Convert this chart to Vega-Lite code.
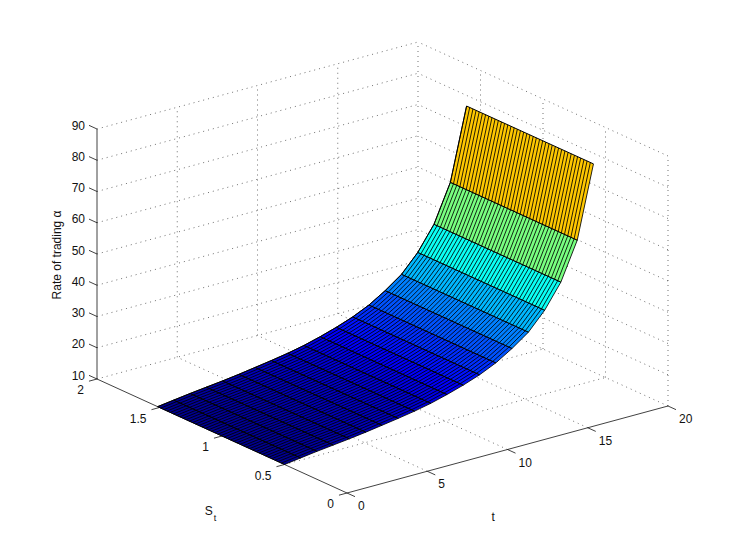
{"$schema":"https://vega.github.io/schema/vega-lite/v6.json","width":740,"height":556,"padding":0,"autosize":{"type":"none"},"background":"white","config":{"view":{"stroke":null}},
"datasets":{
"grid":[{"t":5,"S":0,"z":10,"t2":5,"S2":2,"z2":10},{"t":10,"S":0,"z":10,"t2":10,"S2":2,"z2":10},{"t":15,"S":0,"z":10,"t2":15,"S2":2,"z2":10},{"t":20,"S":0,"z":10,"t2":20,"S2":2,"z2":10},{"t":0,"S":0.5,"z":10,"t2":20,"S2":0.5,"z2":10},{"t":0,"S":1,"z":10,"t2":20,"S2":1,"z2":10},{"t":0,"S":1.5,"z":10,"t2":20,"S2":1.5,"z2":10},{"t":0,"S":2,"z":10,"t2":20,"S2":2,"z2":10},
{"t":0,"S":2,"z":20,"t2":20,"S2":2,"z2":20},{"t":0,"S":2,"z":30,"t2":20,"S2":2,"z2":30},{"t":0,"S":2,"z":40,"t2":20,"S2":2,"z2":40},{"t":0,"S":2,"z":50,"t2":20,"S2":2,"z2":50},{"t":0,"S":2,"z":60,"t2":20,"S2":2,"z2":60},{"t":0,"S":2,"z":70,"t2":20,"S2":2,"z2":70},{"t":0,"S":2,"z":80,"t2":20,"S2":2,"z2":80},{"t":0,"S":2,"z":90,"t2":20,"S2":2,"z2":90},
{"t":5,"S":2,"z":10,"t2":5,"S2":2,"z2":90},{"t":10,"S":2,"z":10,"t2":10,"S2":2,"z2":90},{"t":15,"S":2,"z":10,"t2":15,"S2":2,"z2":90},{"t":20,"S":2,"z":10,"t2":20,"S2":2,"z2":90},
{"t":20,"S":0,"z":20,"t2":20,"S2":2,"z2":20},{"t":20,"S":0,"z":30,"t2":20,"S2":2,"z2":30},{"t":20,"S":0,"z":40,"t2":20,"S2":2,"z2":40},{"t":20,"S":0,"z":50,"t2":20,"S2":2,"z2":50},{"t":20,"S":0,"z":60,"t2":20,"S2":2,"z2":60},{"t":20,"S":0,"z":70,"t2":20,"S2":2,"z2":70},{"t":20,"S":0,"z":80,"t2":20,"S2":2,"z2":80},{"t":20,"S":0,"z":90,"t2":20,"S2":2,"z2":90},
{"t":20,"S":0,"z":10,"t2":20,"S2":0,"z2":90},{"t":20,"S":0.5,"z":10,"t2":20,"S2":0.5,"z2":90},{"t":20,"S":1,"z":10,"t2":20,"S2":1,"z2":90},{"t":20,"S":1.5,"z":10,"t2":20,"S2":1.5,"z2":90}],
"solid":[{"t":0,"S":2,"z":10,"t2":0,"S2":2,"z2":90},{"t":0,"S":0,"z":10,"t2":0,"S2":2,"z2":10},{"t":0,"S":0,"z":10,"t2":20,"S2":0,"z2":10},
{"t":0,"S":2,"z":10,"t2":0,"S2":2.064,"z2":10},{"t":0,"S":2,"z":20,"t2":0,"S2":2.064,"z2":20},{"t":0,"S":2,"z":30,"t2":0,"S2":2.064,"z2":30},{"t":0,"S":2,"z":40,"t2":0,"S2":2.064,"z2":40},{"t":0,"S":2,"z":50,"t2":0,"S2":2.064,"z2":50},{"t":0,"S":2,"z":60,"t2":0,"S2":2.064,"z2":60},{"t":0,"S":2,"z":70,"t2":0,"S2":2.064,"z2":70},{"t":0,"S":2,"z":80,"t2":0,"S2":2.064,"z2":80},{"t":0,"S":2,"z":90,"t2":0,"S2":2.064,"z2":90},
{"t":0,"S":0,"z":10,"t2":-0.5,"S2":0,"z2":10},{"t":0,"S":0.5,"z":10,"t2":-0.5,"S2":0.5,"z2":10},{"t":0,"S":1,"z":10,"t2":-0.5,"S2":1,"z2":10},{"t":0,"S":1.5,"z":10,"t2":-0.5,"S2":1.5,"z2":10},{"t":0,"S":2,"z":10,"t2":-0.5,"S2":2,"z2":10},
{"t":0,"S":0,"z":10,"t2":0,"S2":-0.064,"z2":10},{"t":5,"S":0,"z":10,"t2":5,"S2":-0.064,"z2":10},{"t":10,"S":0,"z":10,"t2":10,"S2":-0.064,"z2":10},{"t":15,"S":0,"z":10,"t2":15,"S2":-0.064,"z2":10},{"t":20,"S":0,"z":10,"t2":20,"S2":-0.064,"z2":10}],
"cells":[
{"c":"c00","o":0,"t":0,"S":0.5,"z":10},{"c":"c00","o":1,"t":0,"S":1.515,"z":10},{"c":"c00","o":2,"t":1.01,"S":1.515,"z":10.7},{"c":"c00","o":3,"t":1.01,"S":0.5,"z":10.7},
{"c":"c01","o":0,"t":1.01,"S":0.5,"z":10.7},{"c":"c01","o":1,"t":1.01,"S":1.515,"z":10.7},{"c":"c01","o":2,"t":2.03,"S":1.515,"z":11.4},{"c":"c01","o":3,"t":2.03,"S":0.5,"z":11.4},
{"c":"c02","o":0,"t":2.03,"S":0.5,"z":11.4},{"c":"c02","o":1,"t":2.03,"S":1.515,"z":11.4},{"c":"c02","o":2,"t":3.04,"S":1.515,"z":12},{"c":"c02","o":3,"t":3.04,"S":0.5,"z":12},
{"c":"c03","o":0,"t":3.04,"S":0.5,"z":12},{"c":"c03","o":1,"t":3.04,"S":1.515,"z":12},{"c":"c03","o":2,"t":4.05,"S":1.515,"z":12.6},{"c":"c03","o":3,"t":4.05,"S":0.5,"z":12.6},
{"c":"c04","o":0,"t":4.05,"S":0.5,"z":12.6},{"c":"c04","o":1,"t":4.05,"S":1.515,"z":12.6},{"c":"c04","o":2,"t":5.07,"S":1.515,"z":13.3},{"c":"c04","o":3,"t":5.07,"S":0.5,"z":13.3},
{"c":"c05","o":0,"t":5.07,"S":0.5,"z":13.3},{"c":"c05","o":1,"t":5.07,"S":1.515,"z":13.3},{"c":"c05","o":2,"t":6.08,"S":1.515,"z":14.1},{"c":"c05","o":3,"t":6.08,"S":0.5,"z":14.1},
{"c":"c06","o":0,"t":6.08,"S":0.5,"z":14.1},{"c":"c06","o":1,"t":6.08,"S":1.515,"z":14.1},{"c":"c06","o":2,"t":7.09,"S":1.515,"z":14.9},{"c":"c06","o":3,"t":7.09,"S":0.5,"z":14.9},
{"c":"c07","o":0,"t":7.09,"S":0.5,"z":14.9},{"c":"c07","o":1,"t":7.09,"S":1.515,"z":14.9},{"c":"c07","o":2,"t":8.11,"S":1.515,"z":15.8},{"c":"c07","o":3,"t":8.11,"S":0.5,"z":15.8},
{"c":"c08","o":0,"t":8.11,"S":0.5,"z":15.8},{"c":"c08","o":1,"t":8.11,"S":1.515,"z":15.8},{"c":"c08","o":2,"t":9.12,"S":1.515,"z":16.9},{"c":"c08","o":3,"t":9.12,"S":0.5,"z":16.9},
{"c":"c09","o":0,"t":9.12,"S":0.5,"z":16.9},{"c":"c09","o":1,"t":9.12,"S":1.515,"z":16.9},{"c":"c09","o":2,"t":10.13,"S":1.515,"z":18.3},{"c":"c09","o":3,"t":10.13,"S":0.5,"z":18.3},
{"c":"c10","o":0,"t":10.13,"S":0.5,"z":18.3},{"c":"c10","o":1,"t":10.13,"S":1.515,"z":18.3},{"c":"c10","o":2,"t":11.14,"S":1.515,"z":19.9},{"c":"c10","o":3,"t":11.14,"S":0.5,"z":19.9},
{"c":"c11","o":0,"t":11.14,"S":0.5,"z":19.9},{"c":"c11","o":1,"t":11.14,"S":1.515,"z":19.9},{"c":"c11","o":2,"t":12.16,"S":1.515,"z":21.8},{"c":"c11","o":3,"t":12.16,"S":0.5,"z":21.8},
{"c":"c12","o":0,"t":12.16,"S":0.5,"z":21.8},{"c":"c12","o":1,"t":12.16,"S":1.515,"z":21.8},{"c":"c12","o":2,"t":13.17,"S":1.515,"z":24.2},{"c":"c12","o":3,"t":13.17,"S":0.5,"z":24.2},
{"c":"c13","o":0,"t":13.17,"S":0.5,"z":24.2},{"c":"c13","o":1,"t":13.17,"S":1.515,"z":24.2},{"c":"c13","o":2,"t":14.18,"S":1.515,"z":27.4},{"c":"c13","o":3,"t":14.18,"S":0.5,"z":27.4},
{"c":"c14","o":0,"t":14.18,"S":0.5,"z":27.4},{"c":"c14","o":1,"t":14.18,"S":1.515,"z":27.4},{"c":"c14","o":2,"t":15.2,"S":1.515,"z":31.2},{"c":"c14","o":3,"t":15.2,"S":0.5,"z":31.2},
{"c":"c15","o":0,"t":15.2,"S":0.5,"z":31.2},{"c":"c15","o":1,"t":15.2,"S":1.515,"z":31.2},{"c":"c15","o":2,"t":16.21,"S":1.515,"z":36.8},{"c":"c15","o":3,"t":16.21,"S":0.5,"z":36.8},
{"c":"c16","o":0,"t":16.21,"S":0.5,"z":36.8},{"c":"c16","o":1,"t":16.21,"S":1.515,"z":36.8},{"c":"c16","o":2,"t":17.22,"S":1.515,"z":44.4},{"c":"c16","o":3,"t":17.22,"S":0.5,"z":44.4},
{"c":"c17","o":0,"t":17.22,"S":0.5,"z":44.4},{"c":"c17","o":1,"t":17.22,"S":1.515,"z":44.4},{"c":"c17","o":2,"t":18.24,"S":1.515,"z":56.4},{"c":"c17","o":3,"t":18.24,"S":0.5,"z":56.4},
{"c":"c18","o":0,"t":18.24,"S":0.5,"z":56.4},{"c":"c18","o":1,"t":18.24,"S":1.515,"z":56.4},{"c":"c18","o":2,"t":19.25,"S":1.515,"z":79.4},{"c":"c18","o":3,"t":19.25,"S":0.5,"z":79.4}],
"profile":[{"t":0,"z":10},{"t":1.01,"z":10.7},{"t":2.03,"z":11.4},{"t":3.04,"z":12},{"t":4.05,"z":12.6},{"t":5.07,"z":13.3},{"t":6.08,"z":14.1},{"t":7.09,"z":14.9},{"t":8.11,"z":15.8},{"t":9.12,"z":16.9},{"t":10.13,"z":18.3},{"t":11.14,"z":19.9},{"t":12.16,"z":21.8},{"t":13.17,"z":24.2},{"t":14.18,"z":27.4},{"t":15.2,"z":31.2},{"t":16.21,"z":36.8},{"t":17.22,"z":44.4},{"t":18.24,"z":56.4},{"t":19.25,"z":79.4}]
},
"encoding":{"x":{"field":"u","type":"quantitative","scale":{"domain":[0,740],"range":[0,740],"nice":false,"zero":false},"axis":null},"y":{"field":"v","type":"quantitative","scale":{"domain":[0,556],"range":[0,556],"nice":false,"zero":false},"axis":null}},
"layer":[
{"data":{"name":"grid"},"transform":[{"calculate":"347+16.05*datum.t-125*datum.S","as":"u"},{"calculate":"493-4.35*datum.t-57*datum.S-3.125*(datum.z-10)","as":"v"},{"calculate":"347+16.05*datum.t2-125*datum.S2","as":"u2"},{"calculate":"493-4.35*datum.t2-57*datum.S2-3.125*(datum.z2-10)","as":"v2"}],"mark":{"type":"rule","stroke":"#333333","strokeWidth":0.7,"strokeDash":[1,4]},"encoding":{"x2":{"field":"u2"},"y2":{"field":"v2"}}},
{"data":{"name":"solid"},"transform":[{"calculate":"347+16.05*datum.t-125*datum.S","as":"u"},{"calculate":"493-4.35*datum.t-57*datum.S-3.125*(datum.z-10)","as":"v"},{"calculate":"347+16.05*datum.t2-125*datum.S2","as":"u2"},{"calculate":"493-4.35*datum.t2-57*datum.S2-3.125*(datum.z2-10)","as":"v2"}],"mark":{"type":"rule","stroke":"#111111","strokeWidth":0.8},"encoding":{"x2":{"field":"u2"},"y2":{"field":"v2"}}},
{"data":{"name":"cells"},"transform":[{"calculate":"347+16.05*datum.t-125*datum.S","as":"u"},{"calculate":"493-4.35*datum.t-57*datum.S-3.125*(datum.z-10)","as":"v"}],"mark":{"type":"line","filled":true,"stroke":"#000000","strokeWidth":1},"encoding":{"fill":{"field":"c","type":"nominal","legend":null,"scale":{"domain":["c00","c01","c02","c03","c04","c05","c06","c07","c08","c09","c10","c11","c12","c13","c14","c15","c16","c17","c18"],"range":["#000090","#000098","#0000a0","#0000a8","#0000b0","#0000b8","#0000c2","#0000cc","#0000d8","#0000e6","#0000fa","#0012ff","#002eff","#0052ff","#0080ff","#00b8ff","#0bfff4","#78ff80","#ffc800"]}},"order":{"field":"o","type":"quantitative"}}},
{"data":{"name":"profile"},"transform":[{"calculate":"[0.5,0.525,0.551,0.576,0.602,0.627,0.652,0.678,0.703,0.728,0.754,0.779,0.805,0.83,0.855,0.881,0.906,0.931,0.957,0.982,1.008,1.033,1.058,1.084,1.109,1.134,1.16,1.185,1.211,1.236,1.261,1.287,1.312,1.337,1.363,1.388,1.414,1.439,1.464,1.49,1.515]","as":"S"},{"flatten":["S"]},{"calculate":"347+16.05*datum.t-125*datum.S","as":"u"},{"calculate":"493-4.35*datum.t-57*datum.S-3.125*(datum.z-10)","as":"v"}],"mark":{"type":"line","stroke":"#000000","strokeWidth":0.85},"encoding":{"detail":{"field":"S","type":"quantitative"},"order":{"field":"t","type":"quantitative"}}},
{"data":{"values":[{"txt":"10","t":0,"S":2,"z":10},{"txt":"20","t":0,"S":2,"z":20},{"txt":"30","t":0,"S":2,"z":30},{"txt":"40","t":0,"S":2,"z":40},{"txt":"50","t":0,"S":2,"z":50},{"txt":"60","t":0,"S":2,"z":60},{"txt":"70","t":0,"S":2,"z":70},{"txt":"80","t":0,"S":2,"z":80},{"txt":"90","t":0,"S":2,"z":90}]},"transform":[{"calculate":"347+16.05*datum.t-125*datum.S","as":"u"},{"calculate":"493-4.35*datum.t-57*datum.S-3.125*(datum.z-10)","as":"v"}],"mark":{"type":"text","font":"Liberation Sans","fontSize":12,"align":"right","baseline":"middle","dx":-12,"dy":-3.5,"fill":"#111111"},"encoding":{"text":{"field":"txt"}}},
{"data":{"values":[{"txt":"0","t":0,"S":0,"z":10},{"txt":"0.5","t":0,"S":0.5,"z":10},{"txt":"1","t":0,"S":1,"z":10},{"txt":"1.5","t":0,"S":1.5,"z":10},{"txt":"2","t":0,"S":2,"z":10}]},"transform":[{"calculate":"347+16.05*datum.t-125*datum.S","as":"u"},{"calculate":"493-4.35*datum.t-57*datum.S-3.125*(datum.z-10)","as":"v"}],"mark":{"type":"text","font":"Liberation Sans","fontSize":12,"align":"right","baseline":"middle","dx":-13,"dy":11,"fill":"#111111"},"encoding":{"text":{"field":"txt"}}},
{"data":{"values":[{"txt":"0","t":0,"S":0,"z":10},{"txt":"5","t":5,"S":0,"z":10},{"txt":"10","t":10,"S":0,"z":10},{"txt":"15","t":15,"S":0,"z":10},{"txt":"20","t":20,"S":0,"z":10}]},"transform":[{"calculate":"347+16.05*datum.t-125*datum.S","as":"u"},{"calculate":"493-4.35*datum.t-57*datum.S-3.125*(datum.z-10)","as":"v"}],"mark":{"type":"text","font":"Liberation Sans","fontSize":12,"align":"left","baseline":"middle","dx":11,"dy":13,"fill":"#111111"},"encoding":{"text":{"field":"txt"}}},
{"data":{"values":[{"txt":"t","t":3.65,"S":-0.7,"z":10},{"txt":"S","t":-6.94,"S":0.214,"z":10}]},"transform":[{"calculate":"347+16.05*datum.t-125*datum.S","as":"u"},{"calculate":"493-4.35*datum.t-57*datum.S-3.125*(datum.z-10)","as":"v"}],"mark":{"type":"text","font":"Liberation Sans","fontSize":12,"align":"center","baseline":"middle","fill":"#111111"},"encoding":{"text":{"field":"txt"}}},
{"data":{"values":[{"txt":"t","t":-7.3,"S":0.119,"z":10}]},"transform":[{"calculate":"347+16.05*datum.t-125*datum.S","as":"u"},{"calculate":"493-4.35*datum.t-57*datum.S-3.125*(datum.z-10)","as":"v"}],"mark":{"type":"text","font":"Liberation Sans","fontSize":9,"align":"center","baseline":"middle","fill":"#111111"},"encoding":{"text":{"field":"txt"}}},
{"data":{"values":[{"txt":"Rate of trading α","t":0,"S":2,"z":49.7}]},"transform":[{"calculate":"347+16.05*datum.t-125*datum.S","as":"u"},{"calculate":"493-4.35*datum.t-57*datum.S-3.125*(datum.z-10)","as":"v"}],"mark":{"type":"text","font":"Liberation Sans","fontSize":12,"align":"center","baseline":"middle","angle":270,"dy":-40,"fill":"#111111"},"encoding":{"text":{"field":"txt"}}}
]}
